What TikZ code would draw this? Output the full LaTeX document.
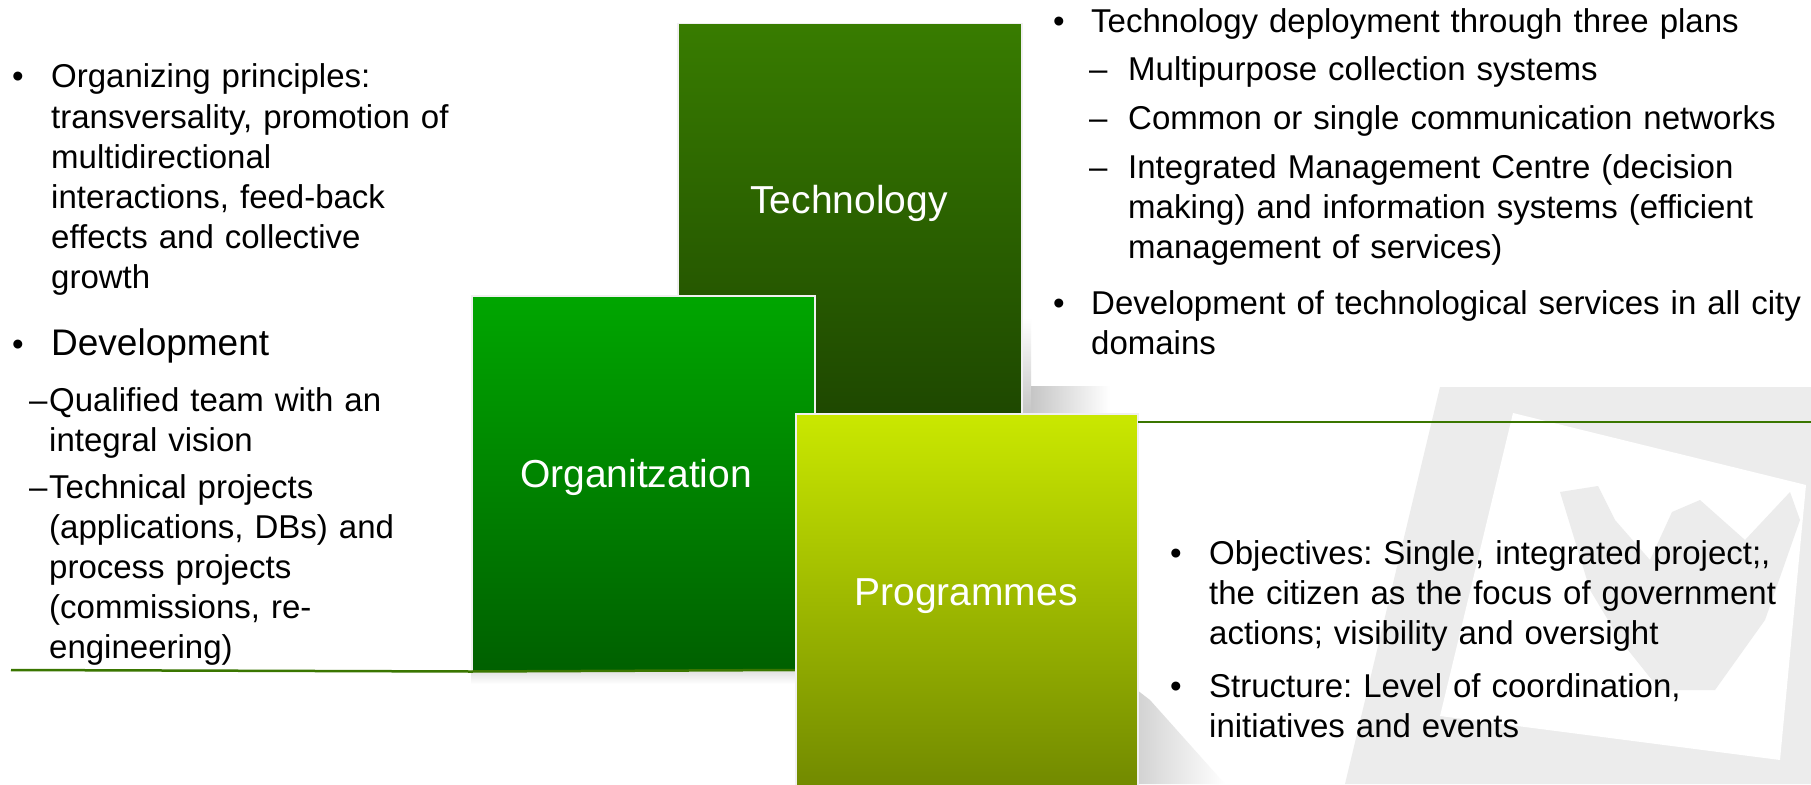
\documentclass[tikz,border=0pt]{standalone}
\usepackage{fontspec}
\setmainfont{Liberation Sans}
\frenchspacing
\definecolor{techtop}{RGB}{56,124,0}
\definecolor{techbot}{RGB}{30,72,0}
\definecolor{orgtop}{RGB}{0,166,0}
\definecolor{orgbot}{RGB}{0,96,0}
\definecolor{progtop}{RGB}{202,232,0}
\definecolor{progbot}{RGB}{112,136,0}
\definecolor{rulegreen}{RGB}{58,118,0}
\definecolor{wmgray}{RGB}{236,236,236}

\begin{document}
\begin{tikzpicture}[x=1pt,y=-1pt,
  sq/.style={draw=gray!12,line width=1.5pt,anchor=north west,inner sep=0pt},
  lbl/.style={anchor=base,text=white,font=\fontsize{39}{47}\selectfont},
  txt/.style={anchor=base west,inner sep=0pt,text width=760pt,align=left,font=\fontsize{33}{40}\selectfont},
  bul/.style={anchor=base,inner sep=0pt,font=\fontsize{33}{40}\selectfont},
  dsh/.style={anchor=base west,inner sep=0pt,font=\fontsize{33}{40}\selectfont},
  sep/.style={draw=rulegreen,line width=2.5pt}]
\useasboundingbox[fill=white] (0,0) rectangle (1811,784);

\fill[wmgray] (1440,387) -- (1811,387) -- (1811,784) -- (1345,784) -- cycle;
\fill[white] (1513,413) -- (1806,485) -- (1780,760) -- (1440,716) -- cycle;
\fill[wmgray] (1560,492) -- (1598,486) -- (1615,520) -- (1650,560) -- (1672,512) -- (1700,500)
  -- (1745,540) -- (1790,492) -- (1800,520) -- (1765,620) -- (1715,690) -- (1660,690)
  -- (1620,640) -- (1590,590) -- cycle;

\shade[top color=white,bottom color=gray!45] (1021,318) rectangle (1031,413);
\shade[left color=gray!45,right color=white] (1031,386) rectangle (1110,413);
\shade[left color=gray!35,right color=white] (1137,690) -- (1150,700) -- (1225,784) -- (1137,784) -- cycle;
\shade[top color=gray!25,bottom color=white] (471,670) rectangle (795,684);

\node[sq,minimum width=344pt,minimum height=390pt,top color=techtop,bottom color=techbot] (techsq) at (677,23) {};
\node[lbl] (tech) at (849,213) {Technology};
\node[sq,minimum width=343pt,minimum height=375pt,top color=orgtop,bottom color=orgbot] (orgsq) at (471,295) {};
\node[lbl] (orga) at (636,487) {Organitzation};
\draw[sep] (11,670) -- (orgsq.south west) -- (795,670);
\node[sq,minimum width=342pt,minimum height=380pt,top color=progtop,bottom color=progbot] (progsq) at (795,413) {};
\node[lbl] (prog) at (966,605) {Programmes};
\draw[sep] (1138,422) -- (1811,422);

\node[bul] (b1) at (18,88) {•};
\node[txt] (t1) at (51,88) {Organizing principles:\\transversality, promotion of\\multidirectional\\interactions, feed-back\\effects and collective\\growth};
\node[bul] (b2) at (18,355) {•};
\node[txt,font=\fontsize{37}{44}\selectfont] (t2) at (51,355) {Development};
\node[dsh] (d1) at (29,411) {–};
\node[txt] (t3) at (49,411) {Qualified team with an\\integral vision};
\node[dsh] (d2) at (29,498) {–};
\node[txt] (t4) at (49,498) {Technical projects\\(applications, DBs) and\\process projects\\(commissions, re-\\engineering)};

\node[bul] (b3) at (1059,33) {•};
\node[txt] (t5) at (1091,33) {Technology deployment through three plans};
\node[dsh] (d3) at (1089,81) {–};
\node[txt] (t6) at (1128,81) {Multipurpose collection systems};
\node[dsh] (d4) at (1089,129) {–};
\node[txt] (t7) at (1128,129) {Common or single communication networks};
\node[dsh] (d5) at (1089,178) {–};
\node[txt] (t8) at (1128,178) {Integrated Management Centre (decision\\making) and information systems (efficient\\management of services)};
\node[bul] (b4) at (1059,314) {•};
\node[txt] (t9) at (1091,314) {Development of technological services in all city\\domains};

\node[bul] (b5) at (1176,564) {•};
\node[txt] (t10) at (1209,564) {Objectives: Single, integrated project;,\\the citizen as the focus of government\\actions; visibility and oversight};
\node[bul] (b6) at (1176,697) {•};
\node[txt] (t11) at (1209,697) {Structure: Level of coordination,\\initiatives and events};
\end{tikzpicture}
\end{document}
